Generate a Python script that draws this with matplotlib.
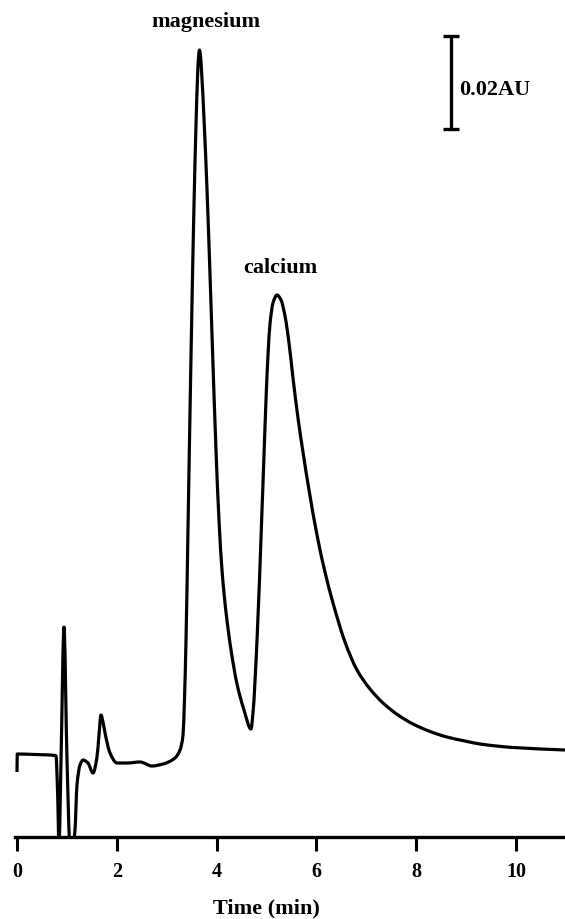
import matplotlib
matplotlib.use("Agg")
import matplotlib.pyplot as plt
import numpy as np
from matplotlib.path import Path
from matplotlib.patches import PathPatch

# ---- data (time in min, absorbance in AU above the axis line) ----
time_min = [0.000, 0.005, 0.361, 0.762, 0.782, 0.812, 0.842, 0.882, 0.942, 1.002,
            1.062, 1.122, 1.162, 1.202, 1.263, 1.323, 1.423, 1.523, 1.603, 1.643,
            1.683, 1.723, 1.764, 1.864, 2.004, 2.204, 2.465, 2.705, 2.926, 3.166,
            3.267, 3.327, 3.357, 3.387, 3.427, 3.467, 3.507, 3.547, 3.587, 3.617,
            3.637, 3.657, 3.677, 3.697, 3.747, 3.808, 3.868, 3.928, 3.988, 4.048,
            4.108, 4.188, 4.289, 4.409, 4.549, 4.689, 4.729, 4.810, 4.910, 4.950,
            4.990, 5.030, 5.070, 5.130, 5.210, 5.291, 5.371, 5.451, 5.531, 5.631,
            5.731, 5.852, 6.012, 6.172, 6.333, 6.573, 6.814, 7.074, 7.335, 7.635,
            7.936, 8.277, 8.617, 8.978, 9.279, 9.940, 10.982]
absorbance = [0.01398, 0.01785, 0.01774, 0.01753, 0.01742, 0.01011, -0.00172, 0.01656, 0.04516, 0.01656,
              -0.00172, -0.00172, 0.00150, 0.01118, 0.01548, 0.01656, 0.01591, 0.01376, 0.01720, 0.02194,
              0.02624, 0.02473, 0.02237, 0.01806, 0.01591, 0.01591, 0.01613, 0.01527, 0.01570, 0.01699,
              0.01871, 0.02194, 0.02989, 0.04236, 0.06645, 0.09140, 0.11484, 0.13591, 0.15312, 0.16322,
              0.16752, 0.16924, 0.16795, 0.16494, 0.15462, 0.13914, 0.12086, 0.10150, 0.08322, 0.06817,
              0.05742, 0.04839, 0.04021, 0.03290, 0.02731, 0.02323, 0.02667, 0.04236, 0.07032, 0.08215,
              0.09398, 0.10365, 0.11032, 0.11484, 0.11656, 0.11548, 0.11204, 0.10623, 0.09871, 0.09011,
              0.08279, 0.07462, 0.06495, 0.05699, 0.05032, 0.04193, 0.03591, 0.03183, 0.02882, 0.02624,
              0.02430, 0.02269, 0.02150, 0.02064, 0.02000, 0.01925, 0.01871]

x_ticks = [0, 2, 4, 6, 8, 10]
x_tick_labels = ["0", "2", "4", "6", "8", "10"]
peak_names = ["magnesium", "calcium"]
peak_label_x = [3.788, 5.27]
peak_label_y = [0.1742, 0.1213]
scale_bar_au = 0.02
scale_bar_x = 8.697
scale_bar_bottom = 0.15226
scale_label = "0.02AU"


def smooth_trace_path(x, y):
    """Monotone cubic (PCHIP) through the read points, expressed as Bezier segments."""
    x = np.asarray(x, float)
    y = np.asarray(y, float)
    n = len(x)
    h = np.diff(x)
    d = np.diff(y) / h
    m = np.zeros(n)
    m[0], m[-1] = d[0], d[-1]
    for k in range(1, n - 1):
        if d[k - 1] * d[k] > 0:
            w1 = 2 * h[k] + h[k - 1]
            w2 = h[k] + 2 * h[k - 1]
            m[k] = (w1 + w2) / (w1 / d[k - 1] + w2 / d[k])
    verts = [(x[0], y[0])]
    codes = [Path.MOVETO]
    for k in range(n - 1):
        t = h[k] / 3
        verts += [(x[k] + t, y[k] + m[k] * t), (x[k + 1] - t, y[k + 1] - m[k + 1] * t), (x[k + 1], y[k + 1])]
        codes += [Path.CURVE4] * 3
    return Path(verts, codes)


W, H = 565, 919
fig = plt.figure(figsize=(W / 100, H / 100), dpi=100)
ax = fig.add_axes([0, (H - 837) / H, 1, 837 / H])
ax.set_xlim(-17 / 49.9, 548 / 49.9)
ax.set_ylim(0, 837 * 0.02 / 93)

font = dict(family=["Liberation Serif", "DejaVu Serif"], weight="bold")

ax.add_patch(PathPatch(smooth_trace_path(time_min, absorbance), fill=False,
                       edgecolor="black", lw=2.3, joinstyle="round", capstyle="butt"))

for s in ["top", "left", "right"]:
    ax.spines[s].set_visible(False)
ax.spines["bottom"].set_linewidth(2.4)
ax.spines["bottom"].set_bounds(-0.05, 11.0)
ax.set_yticks([])
ax.set_xticks(x_ticks)
ax.set_xticklabels(x_tick_labels, fontsize=14.5, **font)
ax.tick_params(axis="x", direction="out", length=10, width=2.2, pad=8)

ax.text(peak_label_x[0], peak_label_y[0], peak_names[0], ha="center", va="baseline", fontsize=16, **font)
ax.text(peak_label_x[1], peak_label_y[1], peak_names[1], ha="center", va="baseline", fontsize=16, **font)

ax.errorbar([scale_bar_x], [scale_bar_bottom + scale_bar_au / 2], yerr=[scale_bar_au / 2],
            color="black", elinewidth=2.4, capsize=6, capthick=2.4, fmt="none")
ax.text(scale_bar_x + 0.16, 0.1596, scale_label, ha="left", va="baseline", fontsize=16, **font)

fig.text(266 / W, (H - 913) / H, "Time (min)", ha="center", va="baseline", fontsize=16, **font)

fig.savefig("out.png", dpi=100)
